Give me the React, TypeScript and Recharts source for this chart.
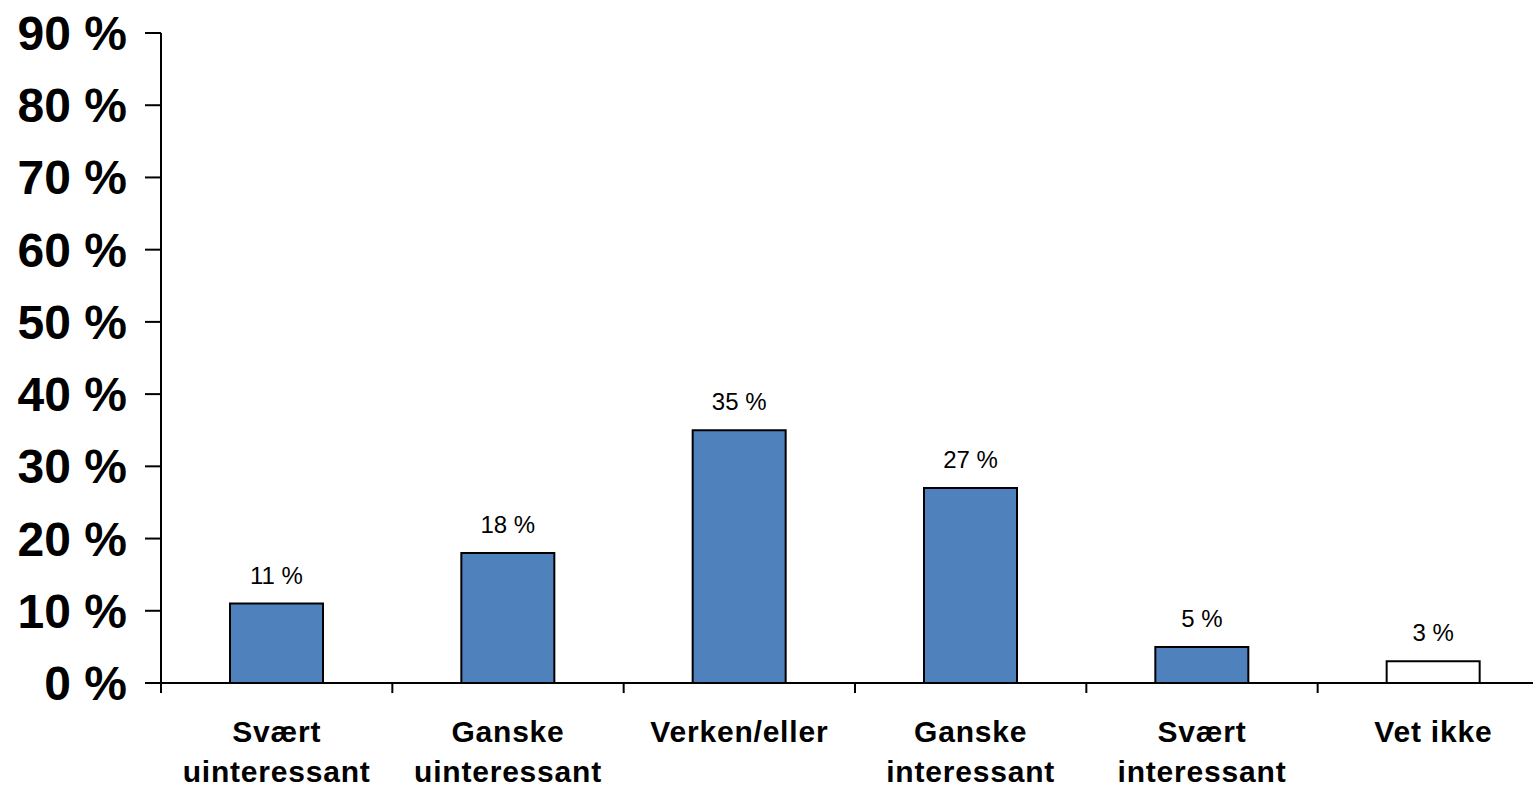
import { BarChart, Bar, XAxis, YAxis, Cell, LabelList } from 'recharts';

const categories = [
    'Svært\nuinteressant',
    'Ganske\nuinteressant',
    'Verken/eller',
    'Ganske\ninteressant',
    'Svært\ninteressant',
    'Vet ikke',
];
const shares = [11, 18, 35, 27, 5, 3];
const barColors = ['#4F81BD', '#4F81BD', '#4F81BD', '#4F81BD', '#4F81BD', '#FFFFFF'];
const yTicks = [0, 10, 20, 30, 40, 50, 60, 70, 80, 90];
const boundaryTicks = [0, 1, 2, 3, 4, 5, 6];

const data = categories.map((name, i) => ({ name, value: shares[i], slot: i + 0.5 }));

const font = '"Liberation Sans", Arial, sans-serif';

function CategoryTick({ x, y, payload }: any) {
    const lines = String(payload.value).split('\n');
    return (
        <text x={x} y={y + 58} textAnchor="middle" fontFamily={font} fontWeight="bold" fontSize={30} letterSpacing={0.8} fill="#000">
            {lines.map((line, i) => (
                <tspan key={i} x={x} dy={i === 0 ? 0 : 40}>
                    {line}
                </tspan>
            ))}
        </text>
    );
}

export default function App() {
    return (
        <div style={{ position: 'fixed', left: 0, top: 0, width: 1533, height: 789, overflow: 'hidden', background: '#fff' }}>
            <BarChart
                width={1549}
                height={789}
                data={data}
                margin={{ top: 33, right: 0, bottom: 0, left: 0 }}
                barCategoryGap={0}
            >
                <XAxis
                    xAxisId="axis"
                    type="number"
                    dataKey="slot"
                    domain={[0, categories.length]}
                    ticks={boundaryTicks}
                    tickFormatter={() => ''}
                    tickSize={10}
                    height={1}
                    stroke="#000"
                    strokeWidth={2}
                    allowDataOverflow
                />
                <XAxis
                    xAxisId="labels"
                    dataKey="name"
                    height={105}
                    axisLine={false}
                    tickLine={false}
                    tickSize={0}
                    tickMargin={0}
                    interval={0}
                    tick={<CategoryTick />}
                />
                <YAxis
                    width={161}
                    domain={[0, 90]}
                    ticks={yTicks}
                    interval={0}
                    tickFormatter={(v: number) => `${v} %`}
                    tickSize={16}
                    tickMargin={18}
                    stroke="#000"
                    strokeWidth={2}
                    tick={{ fontFamily: font, fontWeight: 'bold', fontSize: 48, fill: '#000' }}
                />
                <Bar xAxisId="labels" dataKey="value" barSize={93} stroke="#000" strokeWidth={2} isAnimationActive={false}>
                    {data.map((d, i) => (
                        <Cell key={d.name} fill={barColors[i]} />
                    ))}
                    <LabelList
                        dataKey="value"
                        position="top"
                        offset={20}
                        formatter={(v: any) => `${v} %`}
                        style={{ fontFamily: font, fontSize: 24, fill: '#000' }}
                    />
                </Bar>
            </BarChart>
        </div>
    );
}
